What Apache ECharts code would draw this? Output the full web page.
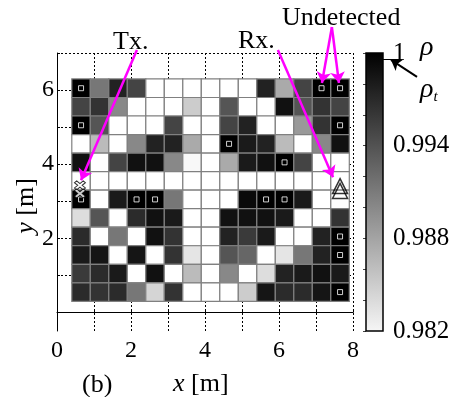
<!DOCTYPE html>
<html><head><meta charset="utf-8">
<script src="https://cdn.jsdelivr.net/npm/echarts@6/dist/echarts.min.js"></script>
<style>html,body{margin:0;padding:0;background:#fff}#c{width:454px;height:397px}</style>
</head><body><div id="c"></div>
<script>
// cell centres (m)
const xCenters = [0.65,1.15,1.65,2.15,2.65,3.15,3.65,4.15,4.65,5.15,5.65,6.15,6.65,7.15,7.65];
const yCenters = [6.05,5.55,5.05,4.55,4.05,3.55,3.05,2.55,2.05,1.55,1.05,0.55]; // rows top -> bottom
// correlation coefficient rho per cell (rows top -> bottom)
const rho = [
  [1.0000,0.9916,0.9976,0.9952,0.9820,0.9820,0.9820,0.9820,0.9820,0.9820,0.9976,0.9880,0.9952,1.0000,1.0000],
  [0.9952,0.9964,0.9904,0.9820,0.9820,0.9820,0.9856,0.9820,0.9940,0.9820,0.9820,0.9988,0.9940,0.9964,0.9952],
  [1.0000,0.9940,0.9820,0.9820,0.9820,0.9952,0.9820,0.9820,0.9952,0.9976,0.9820,0.9820,0.9892,0.9964,1.0000],
  [0.9820,0.9868,0.9820,0.9904,0.9976,0.9976,0.9880,0.9820,1.0000,0.9982,0.9976,0.9868,0.9820,0.9904,0.9988],
  [0.9988,0.9820,0.9952,0.9988,0.9988,0.9904,0.9825,0.9820,0.9880,0.9982,0.9988,1.0000,0.9952,0.9820,0.9820],
  [0.9820,0.9820,0.9820,0.9820,0.9820,0.9820,0.9820,0.9820,0.9820,0.9820,0.9820,0.9820,0.9820,0.9820,0.9820],
  [1.0000,0.9820,0.9982,1.0000,1.0000,0.9916,0.9820,0.9820,0.9820,0.9993,1.0000,1.0000,0.9982,0.9820,0.9820],
  [0.9844,0.9940,0.9820,0.9970,0.9988,0.9982,0.9820,0.9820,0.9988,0.9988,0.9988,0.9982,0.9820,0.9820,0.9964],
  [0.9970,0.9820,0.9916,0.9820,0.9988,0.9964,0.9820,0.9820,0.9976,0.9959,0.9982,0.9820,0.9820,0.9976,1.0000],
  [0.9982,0.9985,0.9820,0.9985,0.9820,0.9964,0.9838,0.9820,0.9940,0.9928,0.9820,0.9838,0.9916,0.9976,1.0000],
  [0.9959,0.9970,0.9982,0.9820,0.9988,0.9820,0.9868,0.9820,0.9904,0.9820,0.9844,0.9976,0.9982,0.9988,0.9982],
  [0.9970,0.9964,0.9970,0.9916,0.9850,0.9964,0.9820,0.9820,0.9820,0.9856,0.9985,0.9970,0.9970,0.9985,1.0000]
];
// cells marked with small squares [col,row]
const markedCells = [[0,0],[0,2],[0,6],[3,6],[4,6],[13,0],[14,0],[14,2],[8,3],[11,4],[10,6],[11,6],[14,8],[14,9],[14,11]];
const txPos = [[0.62,3.43],[0.62,3.21]];
const rxPos = [[7.65,3.41],[7.65,3.28]];
const xTickLabels = [0,2,4,6,8];
const xTicks = [0,1,2,3,4,5,6,7,8];
const yTickLabels = [2,4,6];
const yTicks = [0,1,2,3,4,5,6,7];
const cbTickLabels = [0.982,0.988,0.994,1];
const cbTicks = [0.982,0.984,0.986,0.988,0.990,0.992,0.994,0.996,0.998,1];
const rhoMin = 0.982, rhoMax = 1, rhoT = 0.9996;
// annotation arrows (data coords): [start, end]
const txArrow = [[2.16,7.08],[0.65,3.57]];
const rxArrow = [[5.97,7.08],[7.46,3.65]];
const undetArrows = [[[7.43,7.70],[7.16,6.19]],[[7.43,7.70],[7.62,6.19]]];
const rhoTArrow = [[3.0,0.99845],[1.47,0.99955]];

const FONT = 'Liberation Serif';
const cellData = [];
rho.forEach((row, r) => row.forEach((v, c) => cellData.push([xCenters[c], yCenters[r], v])));
const markData = markedCells.map(([c, r]) => [xCenters[c], yCenters[r]]);

const chart = echarts.init(document.getElementById('c'));
chart.setOption({
  animation: false,
  backgroundColor: '#fff',
  grid: [
    {left: 57, top: 53, width: 296, height: 278},
    {left: 366, top: 53, width: 17, height: 278}
  ],
  xAxis: [
    {gridIndex: 0, type: 'value', min: 0, max: 8, interval: 1,
     axisLine: {lineStyle: {color: '#000', width: 1}},
     axisTick: {inside: true, length: 3, lineStyle: {color: '#000'}},
     splitLine: {show: true, lineStyle: {color: '#000', type: [2, 2], width: 1}},
     axisLabel: {formatter: v => xTickLabels.includes(v) ? String(v) : '', fontFamily: FONT, fontSize: 24, color: '#000', margin: 8}},
    {gridIndex: 1, type: 'value', min: 0, max: 1, show: false}
  ],
  yAxis: [
    {gridIndex: 0, type: 'value', min: -0.5, max: 7,
     axisLine: {show: true, lineStyle: {color: '#000', width: 1}},
     axisTick: {show: true, inside: true, length: 3, customValues: yTicks, lineStyle: {color: '#000'}},
     splitLine: {show: true, lineStyle: {color: '#000', type: [2, 2], width: 1}},
     axisLabel: {customValues: yTickLabels, fontFamily: FONT, fontSize: 24, color: '#000', margin: 3, padding: [18, 0, 0, 0]}},
    {gridIndex: 1, type: 'value', min: rhoMin, max: rhoMax, position: 'right',
     axisLine: {show: false},
     axisTick: {show: true, inside: true, length: 3, customValues: cbTicks, lineStyle: {color: '#444'}},
     splitLine: {show: false},
     axisLabel: {customValues: cbTickLabels, formatter: v => String(v), fontFamily: FONT, fontSize: 25, color: '#000', margin: 10, padding: [8, 0, 0, 0]}}
  ],
  visualMap: {type: 'continuous', show: false, min: rhoMin, max: rhoMax, dimension: 2, seriesIndex: 0,
              inRange: {color: ['#ffffff', '#000000']}},
  series: [
    {type: 'custom', xAxisIndex: 0, yAxisIndex: 0, data: cellData, encode: {x: 0, y: 1},
     renderItem(params, api) {
       const x = api.value(0), y = api.value(1);
       const p0 = api.coord([x - 0.25, y + 0.25]);
       const p1 = api.coord([x + 0.25, y - 0.25]);
       return {type: 'rect', shape: {x: p0[0], y: p0[1], width: p1[0] - p0[0], height: p1[1] - p0[1]},
               style: {fill: api.visual('color'), stroke: '#808080', lineWidth: 1.2}};
     }, z: 2},
    {type: 'scatter', xAxisIndex: 0, yAxisIndex: 0, data: markData, symbol: 'rect', symbolSize: 5,
     itemStyle: {color: 'rgba(0,0,0,0)', borderColor: '#fff', borderWidth: 1}, z: 4},
    {type: 'scatter', xAxisIndex: 0, yAxisIndex: 0, data: txPos,
     symbol: 'path://M2,0 L5,3 L8,0 L10,2 L7,5 L10,8 L8,10 L5,7 L2,10 L0,8 L3,5 L0,2 Z', symbolSize: [11, 9],
     itemStyle: {color: '#fff', borderColor: '#000', borderWidth: 1}, z: 5},
    {type: 'scatter', xAxisIndex: 0, yAxisIndex: 0, data: rxPos, symbol: 'triangle', symbolSize: [15, 15],
     itemStyle: {color: 'rgba(255,255,255,0)', borderColor: '#000', borderWidth: 1.5}, z: 5},
    {type: 'lines', coordinateSystem: 'cartesian2d', xAxisIndex: 0, yAxisIndex: 0, clip: false,
     symbol: ['none', 'arrow'], symbolSize: 11,
     lineStyle: {color: '#ff00ff', width: 2.5, opacity: 1},
     data: [{coords: txArrow}, {coords: rxArrow}, {coords: undetArrows[0]}, {coords: undetArrows[1]}], z: 6},
    {type: 'custom', xAxisIndex: 1, yAxisIndex: 1, data: [[0, rhoMin, 1, rhoMax]], clip: false,
     renderItem(params, api) {
       const p0 = api.coord([api.value(0), api.value(3)]);
       const p1 = api.coord([api.value(2), api.value(1)]);
       return {type: 'rect', shape: {x: p0[0], y: p0[1], width: p1[0] - p0[0], height: p1[1] - p0[1]},
               style: {fill: new echarts.graphic.LinearGradient(0, 0, 0, 1, [{offset: 0, color: '#000'}, {offset: 1, color: '#f6f6f6'}]),
                       stroke: '#000', lineWidth: 1.5}};
     }, z: 1},
    {type: 'lines', coordinateSystem: 'cartesian2d', xAxisIndex: 1, yAxisIndex: 1, clip: false,
     symbol: ['none', 'none'], lineStyle: {color: '#000', width: 1, opacity: 1},
     data: [{coords: [[1, rhoT], [2, rhoT]]}], z: 6},
    {type: 'lines', coordinateSystem: 'cartesian2d', xAxisIndex: 1, yAxisIndex: 1, clip: false,
     symbol: ['none', 'arrow'], symbolSize: 10, lineStyle: {color: '#000', width: 2, opacity: 1},
     data: [{coords: rhoTArrow}], z: 6}
  ],
  graphic: [
    {type: 'text', left: 113, top: 29, style: {text: 'Tx.', font: '26px "Liberation Serif"', fill: '#000'}},
    {type: 'text', left: 238, top: 28, style: {text: 'Rx.', font: '26px "Liberation Serif"', fill: '#000'}},
    {type: 'text', left: 282, top: 5, style: {text: 'Undetected', font: '26px "Liberation Serif"', fill: '#000'}},
    {type: 'text', left: 420, top: 34, style: {text: 'ρ', font: 'italic 28px "Liberation Serif"', fill: '#000'}},
    {type: 'text', left: 420, top: 76, style: {text: '{a|ρ}{b|t}', rich: {a: {font: 'italic 28px "Liberation Serif"'}, b: {font: 'italic 15px "Liberation Serif"', padding: [14, 0, 0, 0]}}, fill: '#000'}},
    {type: 'text', left: 82, top: 372, style: {text: '(b)', font: '26px "Liberation Serif"', fill: '#000'}},
    {type: 'text', left: 173, top: 371, style: {text: '{i|x} [m]', rich: {i: {font: 'italic 26px "Liberation Serif"'}}, font: '26px "Liberation Serif"', fill: '#000'}},
    {type: 'text', x: 26, y: 206, rotation: Math.PI / 2, style: {text: '{i|y} [m]', rich: {i: {font: 'italic 26px "Liberation Serif"'}}, font: '26px "Liberation Serif"', fill: '#000', align: 'center', verticalAlign: 'middle'}}
  ]
});
</script></body></html>
